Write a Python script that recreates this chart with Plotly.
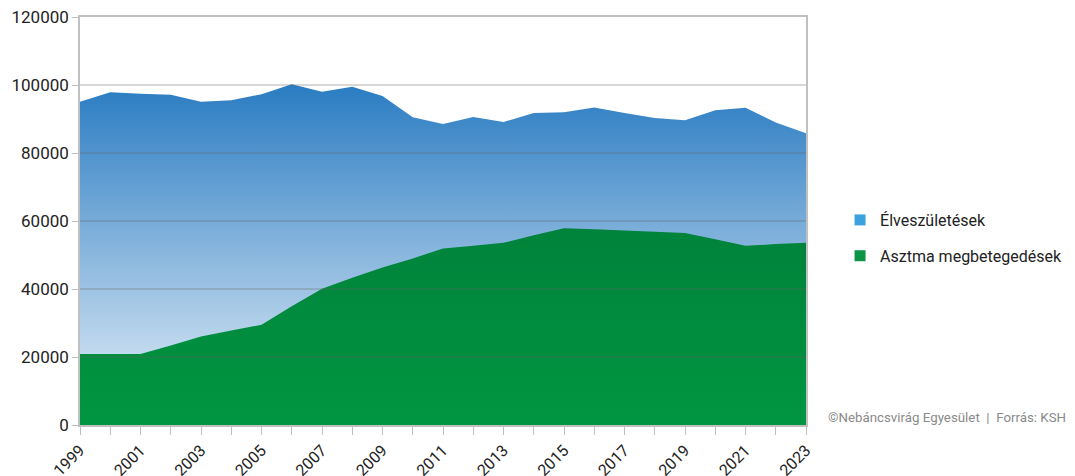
import plotly.graph_objects as go

years = list(range(1999, 2024))
elveszuletesek = [95100, 97900, 97400, 97100, 95100, 95500, 97300, 100200, 98000, 99500,
                  96800, 90500, 88500, 90600, 89100, 91800, 92000, 93400, 91800, 90300,
                  89600, 92600, 93300, 89000, 85800]
asztma = [20900, 20900, 20900, 23400, 26000, 27800, 29500, 34900, 40100, 43300,
          46300, 49000, 51900, 52700, 53600, 55800, 57900, 57600, 57300, 56900,
          56500, 54600, 52700, 53200, 53600]
y_ticks = [0, 20000, 40000, 60000, 80000, 100000, 120000]
x_tick_labels = [str(y) for y in range(1999, 2024, 2)]
series_names = ["Élveszületések", "Asztma megbetegedések"]
legend_colors = ["#3aa3df", "#0a9443"]

FONT = "Roboto"

fig = go.Figure()
fig.add_trace(go.Scatter(
    x=years, y=elveszuletesek, mode="lines", line=dict(width=0, color="#2a7cc2"),
    fill="tozeroy",
    fillgradient=dict(type="vertical", start=0, stop=100000,
                      colorscale=[[0, "#eaf2fa"], [1, "#2a7cc2"]]),
    showlegend=False, hoverinfo="skip"))
fig.add_trace(go.Scatter(
    x=years, y=asztma, mode="lines", line=dict(width=0, color="#008a3d"),
    fill="tozeroy",
    fillgradient=dict(type="vertical", start=0, stop=60000,
                      colorscale=[[0, "#009641"], [1, "#00823b"]]),
    showlegend=False, hoverinfo="skip"))

for i, (name, col) in enumerate(zip(series_names, legend_colors)):
    fig.add_trace(go.Scatter(
        x=[None], y=[None], mode="markers", name=name,
        marker=dict(symbol="square", size=11, color=col),
        legendgroup=f"g{i}", showlegend=True))

for v in y_ticks[1:-1]:
    fig.add_shape(type="line", xref="paper", x0=0, x1=1, yref="y", y0=v, y1=v,
                  line=dict(color="rgba(100,100,100,0.35)", width=1.5), layer="above")

NB = "\u00a0"
fig.update_layout(
    width=1067, height=468,
    margin=dict(l=72, r=269, t=9, b=51),
    paper_bgcolor="white", plot_bgcolor="white",
    font=dict(family=FONT, size=17, color="#222222"),
    legend=dict(xref="container", x=0.7798, xanchor="left",
                yref="container", y=0.5085, yanchor="middle",
                font=dict(family=FONT, size=16, color="#222222"),
                tracegroupgap=12, itemwidth=30, bgcolor="rgba(0,0,0,0)"),
    annotations=[dict(text=f"©Nebáncsvirág Egyesület{NB}{NB}|{NB}{NB}Forrás: KSH",
                      xref="paper", yref="paper", x=1.3602, y=0.018,
                      xanchor="right", yanchor="middle", showarrow=False,
                      font=dict(family=FONT, size=13.3, color="#8a8a8a"))],
)
fig.update_xaxes(
    range=[1999, 2023], tickmode="array", tickvals=list(range(1999, 2024, 2)),
    ticktext=x_tick_labels, tickangle=-45, ticks="outside", ticklen=8,
    tickcolor="#c0c0c0", showline=True, linecolor="#c0c0c0", linewidth=1.5,
    mirror=True, ticklabeloverflow="allow",
    showgrid=False, zeroline=False, automargin=False,
    minor=dict(ticks="outside", dtick=1, tick0=1999, ticklen=8, tickcolor="#c0c0c0"),
    tickfont=dict(family=FONT, size=16, color="#222222"))
fig.update_yaxes(
    range=[0, 120000], tickmode="array", tickvals=y_ticks,
    ticktext=[str(v) for v in y_ticks], ticks="outside", ticklen=6,
    tickcolor="#c0c0c0", showline=True, linecolor="#c0c0c0", linewidth=1.5,
    mirror=True, ticklabeloverflow="allow",
    showgrid=False, zeroline=False, automargin=False,
    tickfont=dict(family=FONT, size=17, color="#222222"))

fig.write_html("out.html")
